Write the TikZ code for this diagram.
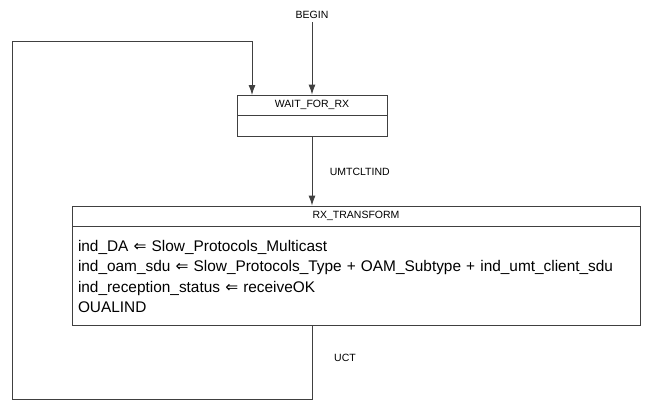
\documentclass[tikz,border=0pt]{standalone}
\usepackage{fontspec}
\setmainfont{Liberation Sans}
\newfontfamily\symfont{DejaVu Sans}
\usetikzlibrary{positioning}
\usetikzlibrary{arrows.meta}

\newcommand{\getsarrow}{{\symfont\char"21D0}}

\tikzset{
  statetitle/.style={draw=black!75, line width=0.9pt, minimum height=20pt, inner sep=0pt, font=\fontsize{10.5}{12}\selectfont},
  statebody/.style={draw=black!75, line width=0.9pt, inner sep=0pt, align=left, font=\fontsize{15.4}{20.5}\selectfont},
  flow/.style={-{Latex[length=10pt,width=7pt]}, draw=black!75, line width=0.9pt},
  cond/.style={font=\fontsize{10.5}{12}\selectfont}
}

\begin{document}
\begin{tikzpicture}[x=1pt, y=-1pt]
    \useasboundingbox (0,0) rectangle (645,402);

    % Entry
    \node[cond] (begin) at (312,15) {BEGIN};

    % WAIT_FOR_RX state
    \node[statetitle, minimum width=150pt] (waitT) at (312,105) {WAIT\_FOR\_RX};
    \node[statebody, minimum width=150pt, minimum height=21pt, below=0pt of waitT] (waitB) {};

    % RX_TRANSFORM state
    \node[statetitle, minimum width=568pt] (rxT) at (356,216) {RX\_TRANSFORM};
    \node[statebody, text width=556pt, minimum height=99pt, inner xsep=6pt, below=0pt of rxT] (rxB)
        {ind\_DA \getsarrow{} Slow\_Protocols\_Multicast\\
         ind\_oam\_sdu \getsarrow{} Slow\_Protocols\_Type + OAM\_Subtype + ind\_umt\_client\_sdu\\
         ind\_reception\_status \getsarrow{} receiveOK\\
         OUALIND};

    % Loop corners
    \coordinate (loopA) at (12,399);
    \coordinate (loopB) at (12,41);
    \coordinate (waitIn) at (252,95);

    % Transitions
    \draw[flow] (begin) -- (waitT.north);
    \draw[flow] (waitB.south) -- node[cond, right=14pt] (umt) {UMTCLTIND} (waitB.south |- rxT.north);
    \draw[flow] (waitB.south |- rxB.south) |- (loopA) -- (loopB) -| (waitIn);
    \node[cond] (uct) at (345,358) {UCT};
\end{tikzpicture}
\end{document}
